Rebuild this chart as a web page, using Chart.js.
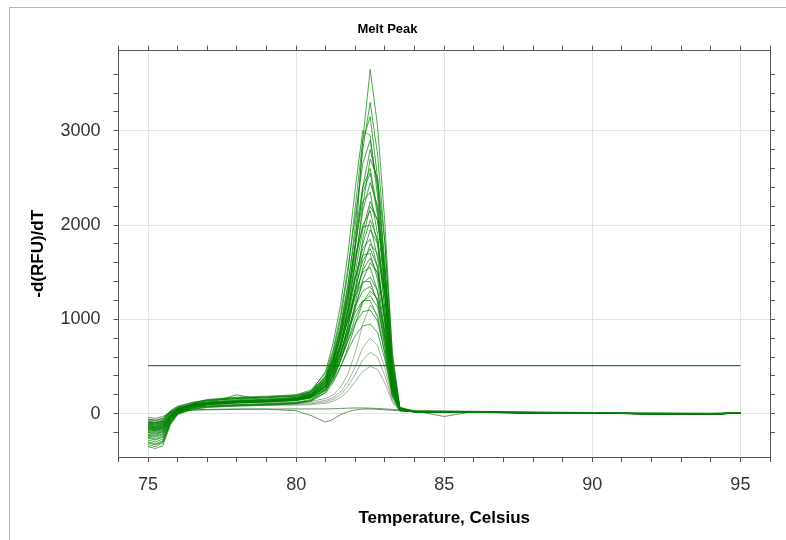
<!DOCTYPE html>
<html>
<head>
<meta charset="utf-8">
<script src="https://cdn.jsdelivr.net/npm/chart.js@4.4.1/dist/chart.umd.min.js"></script>
<style>
  html, body { margin: 0; padding: 0; background: #fff; }
  #wrap { position: relative; width: 786px; height: 540px; }
  #frame { position: absolute; left: 9px; top: 7px; right: 0; bottom: 0; border-left: 1px solid #b8b8b8; border-top: 1px solid #b8b8b8; }
  canvas { position: absolute; left: 0; top: 0; }
</style>
</head>
<body>
<div id="wrap">
  <div id="frame"></div>
  <canvas id="melt" width="786" height="540"></canvas>
</div>
<script>
// temperatures (Celsius) where the curves were read
const temps = [75, 75.25, 75.5, 75.75, 76, 76.5, 77, 78, 79, 80, 80.5, 81, 81.25, 81.5, 81.75, 82, 82.25, 82.5, 82.75, 83, 83.25, 83.5, 84, 85, 86, 87, 88, 89, 90, 91, 92, 93, 94, 95];

// -d(RFU)/dT for each well
const well01 = [-120, -140, -110, -20, 40, 85, 105, 120, 130, 150, 190, 340, 540, 850, 1250, 1800, 2900, 3650, 3050, 2000, 600, 60, 25, 20, 18, 15, 12, 8, 5, 3, 0, -3, -5, 8];
const well02 = [-160, -170, -150, -40, 30, 90, 115, 135, 145, 165, 210, 360, 580, 900, 1350, 2000, 2800, 3300, 2750, 1800, 520, 55, 22, 18, 16, 14, 10, 6, 4, 2, -2, -4, -6, 6];
const well03 = [-90, -100, -80, 10, 60, 100, 120, 140, 150, 170, 220, 400, 650, 1000, 1500, 2200, 2900, 3150, 2500, 1500, 400, 50, 20, 18, 15, 12, 10, 7, 4, 1, -1, -3, -4, 10];
const well04 = [-200, -220, -190, -60, 20, 80, 110, 130, 140, 160, 230, 450, 750, 1150, 1700, 2400, 3000, 2950, 2300, 1300, 300, 40, 20, 18, 15, 12, 9, 6, 3, 1, -2, -5, -6, 5];
const well05 = [-140, -150, -130, -30, 40, 90, 110, 200, 135, 150, 190, 330, 520, 800, 1200, 1750, 2400, 2800, 2450, 1600, 480, 55, 22, 20, 17, 14, 11, 7, 5, 2, 0, -3, -5, 8];
const well06 = [-250, -270, -240, -80, 10, 70, 100, 120, 130, 145, 180, 300, 470, 720, 1100, 1600, 2200, 2700, 2500, 1800, 650, 70, 25, 20, 18, 15, 12, 8, 5, 3, 0, -2, -4, 10];
const well07 = [-110, -120, -100, -10, 50, 95, 115, 130, 140, 155, 200, 360, 560, 850, 1250, 1800, 2350, 2550, 2100, 1250, 350, 45, 20, 18, 15, 12, 10, 6, 4, 2, -1, -3, -5, 7];
const well08 = [-180, -190, -170, -50, 25, 80, 105, 125, 135, 150, 185, 310, 480, 740, 1100, 1600, 2150, 2450, 2200, 1500, 500, 55, 22, 19, 16, 13, 10, 7, 4, 2, -1, -3, -5, 9];
const well09 = [-130, -140, -120, -25, 45, 90, 110, 128, 138, 158, 205, 380, 600, 900, 1300, 1800, 2250, 2350, 1900, 1100, 300, 40, 20, 18, 15, 12, 9, 6, 4, 2, -1, -4, -5, 6];
const well10 = [-220, -230, -200, -70, 15, 75, 100, 118, 128, 142, 175, 290, 450, 700, 1050, 1500, 1950, 2250, 2050, 1400, 480, 50, 22, 19, 16, 13, 10, 7, 4, 2, -1, -3, -5, 8];
const well11 = [-100, -110, -90, 0, 55, 95, 112, 130, 140, 158, 200, 350, 540, 820, 1180, 1620, 2000, 2150, 1800, 1100, 320, 42, 20, 18, 15, 12, 9, 6, 4, 2, -1, -3, -4, 7];
const well12 = [-170, -180, -160, -45, 30, 82, 106, 124, 134, 150, 185, 300, 460, 700, 1020, 1420, 1800, 2050, 1850, 1250, 420, 50, 22, 19, 16, 13, 10, 7, 4, 2, 0, -3, -5, 9];
const well13 = [-260, -280, -250, -90, 5, 65, 95, 115, 125, 140, 170, 270, 410, 630, 930, 1300, 1680, 1950, 1800, 1250, 450, 52, 22, 19, 16, 13, 10, 7, 4, 2, 0, -2, -4, 10];
const well14 = [-120, -130, -110, -20, 48, 92, 112, 128, 138, 155, 195, 330, 500, 760, 1080, 1450, 1750, 1850, 1550, 950, 280, 40, 20, 18, 15, 12, 9, 6, 4, 2, -1, -3, -5, 7];
const well15 = [-150, -160, -140, -35, 38, 86, 108, 126, 136, 152, 188, 310, 470, 700, 990, 1330, 1620, 1750, 1550, 1000, 330, 45, 21, 18, 15, 12, 9, 6, 4, 2, -1, -3, -5, 8];
const well16 = [-190, -200, -180, -55, 22, 78, 104, 122, 132, 148, 180, 290, 430, 650, 930, 1250, 1520, 1650, 1480, 980, 340, 46, 21, 18, 15, 12, 9, 6, 4, 2, 0, -3, -5, 8];
const well17 = [-80, -90, -70, 15, 65, 100, 118, 135, 145, 162, 205, 340, 500, 730, 1000, 1300, 1500, 1550, 1300, 800, 240, 38, 20, 18, 15, 12, 9, 6, 4, 2, -1, -3, -4, 6];
const well18 = [-230, -240, -215, -75, 12, 72, 100, 120, 130, 145, 175, 280, 410, 610, 860, 1150, 1380, 1450, 1300, 850, 280, 42, 20, 18, 15, 12, 9, 6, 4, 2, 0, -3, -5, 9];
const well19 = [-140, -150, -130, -30, 40, 88, 108, 125, 135, 150, 185, 300, 440, 640, 880, 1140, 1300, 1350, 1200, 780, 250, 40, 20, 18, 15, 12, 9, 6, 4, 2, -1, -3, -5, 7];
const well20 = [-300, -320, -290, -100, 0, 60, 92, 112, 122, 138, 165, 260, 380, 560, 780, 1020, 1190, 1250, 1130, 750, 260, 42, 20, 18, 15, 12, 9, 6, 4, 2, 0, -2, -4, 10];
const well21 = [-110, -120, -100, -15, 50, 92, 110, 126, 136, 150, 180, 280, 400, 570, 770, 960, 1080, 1100, 980, 640, 210, 36, 19, 17, 14, 11, 8, 5, 3, 1, -1, -3, -5, 6];
const well22 = [-160, -170, -150, -40, 32, 84, 104, 120, 130, 142, 168, 250, 350, 500, 670, 830, 930, 950, 860, 570, 190, 34, 19, 17, 14, 11, 8, 5, 3, 1, -1, -3, -5, 7];
const well29 = [-330, -350, -310, -110, 20, 110, 150, 175, 185, 200, 250, 430, 680, 1050, 1550, 2100, 2650, 2900, 2400, 1450, 380, 50, 22, 19, 16, 13, 10, 7, 4, 2, -1, -3, -5, 8];
const well30 = [-60, -70, -50, 30, 80, 120, 145, 165, 175, 190, 235, 400, 620, 940, 1380, 1900, 2400, 2600, 2150, 1300, 360, 48, 22, 19, 16, 13, 10, 7, 4, 2, -1, -3, -5, 7];
const well31 = [-280, -300, -270, -95, 0, 50, 70, 85, 95, 110, 140, 250, 400, 620, 920, 1330, 1850, 2200, 2050, 1500, 560, 60, 24, 20, 17, 14, 11, 7, 5, 2, 0, -2, -4, 9];
const well32 = [-200, -210, -190, -60, 35, 100, 135, 160, 170, 185, 225, 380, 580, 880, 1250, 1680, 1980, 2000, 1650, 950, 270, 40, 20, 18, 15, 12, 9, 6, 4, 2, -1, -3, -5, 6];
const well33 = [-350, -370, -340, -120, -10, 45, 65, 80, 90, 105, 130, 230, 360, 560, 830, 1180, 1550, 1800, 1700, 1250, 470, 55, 23, 20, 17, 14, 11, 7, 5, 2, 0, -2, -4, 9];
const well34 = [-150, -160, -140, -35, 42, 105, 140, 165, 175, 192, 235, 390, 570, 820, 1120, 1450, 1680, 1700, 1420, 850, 250, 38, 20, 18, 15, 12, 9, 6, 4, 2, -1, -3, -5, 7];
const well35 = [-240, -250, -225, -80, 15, 60, 80, 95, 105, 120, 150, 250, 380, 570, 820, 1120, 1420, 1600, 1500, 1050, 380, 48, 22, 19, 16, 13, 10, 7, 4, 2, 0, -3, -5, 8];
const well36 = [-90, -100, -80, 20, 70, 115, 140, 160, 170, 185, 225, 360, 520, 740, 1000, 1250, 1400, 1400, 1180, 700, 200, 35, 19, 17, 14, 11, 8, 5, 3, 1, -1, -3, -5, 6];
const well37 = [-310, -330, -300, -105, 0, 55, 75, 90, 100, 112, 138, 220, 330, 490, 700, 950, 1180, 1300, 1220, 850, 300, 45, 21, 18, 15, 12, 9, 6, 4, 2, 0, -2, -4, 9];
const well38 = [-170, -180, -160, -45, 35, 95, 125, 148, 158, 172, 205, 320, 460, 650, 870, 1080, 1200, 1200, 1020, 620, 190, 34, 19, 17, 14, 11, 8, 5, 3, 1, -1, -3, -5, 6];
// late, smaller peaks
const well23 = [-70, -80, -60, 20, 70, 100, 110, 115, 118, 122, 130, 160, 200, 280, 420, 650, 950, 1150, 1050, 700, 220, 40, 20, 18, 15, 12, 9, 6, 4, 2, -1, -3, -4, 6];
const well24 = [-100, -110, -90, 0, 55, 85, 95, 100, 104, 108, 115, 140, 170, 230, 340, 500, 700, 800, 720, 480, 160, 32, 18, 16, 13, 10, 8, 5, 3, 1, -1, -3, -4, 6];
const well25 = [-130, -140, -120, -20, 45, 75, 85, 90, 94, 98, 104, 125, 150, 200, 290, 420, 570, 650, 600, 400, 140, 30, 18, 16, 13, 10, 8, 5, 3, 1, -1, -3, -4, 6];
const well26 = [-90, -100, -80, 10, 55, 70, 78, 82, 86, 90, 95, 110, 130, 170, 240, 340, 450, 500, 470, 320, 120, 28, 17, 15, 12, 10, 7, 5, 3, 1, -1, -3, -4, 6];
// no peak
const well27 = [-60, -70, -50, 10, 25, 35, 40, 45, 48, 50, 50, 50, 52, 55, 58, 60, 60, 58, 55, 50, 45, 40, 35, 30, 25, 20, 18, 15, 12, 10, 8, 6, 5, 10];
const well28 = [-40, -50, -30, 15, 30, 40, 45, 50, 48, 30, -20, -90, -60, -10, 20, 40, 48, 50, 45, 40, 35, 30, 28, -30, 22, 18, 15, 12, 10, 8, 5, 3, 2, 8];

const bigWells = [well01, well02, well03, well04, well05, well06, well07, well08, well09, well10, well11, well12, well13, well14, well15, well16, well17, well18, well19, well20, well21, well22, well29, well30, well31, well32, well33, well34, well35, well36, well37, well38];
const lateWells = [well23, well24, well25, well26];
const flatWells = [well27, well28];

// threshold line
const threshold = 510;
const thresholdSpan = [75, 95];

function toPoints(values) {
  return temps.map((t, i) => ({ x: t, y: values[i] }));
}

const datasets = [];
bigWells.forEach((w) => {
  datasets.push({ data: toPoints(w), borderColor: "rgba(0, 128, 0, 0.7)", borderWidth: 1 });
});
lateWells.forEach((w) => {
  datasets.push({ data: toPoints(w), borderColor: "rgba(70, 110, 70, 0.5)", borderWidth: 1 });
});
flatWells.forEach((w) => {
  datasets.push({ data: toPoints(w), borderColor: "rgba(40, 110, 40, 0.7)", borderWidth: 1 });
});
datasets.push({
  data: thresholdSpan.map((t) => ({ x: t, y: threshold })),
  borderColor: "rgba(20, 110, 20, 0.9)",
  borderWidth: 1.2,
});

const tickFont = { family: "Liberation Sans, Arial, sans-serif", size: 18 };
const titleFont = { family: "Liberation Sans, Arial, sans-serif", size: 17, weight: "bold" };

new Chart(document.getElementById("melt"), {
  type: "line",
  data: { datasets: datasets },
  options: {
    responsive: false,
    animation: false,
    events: [],
    elements: {
      point: { radius: 0 },
      line: { tension: 0 },
    },
    layout: { padding: { left: 0, right: 11, top: 0, bottom: 0 } },
    plugins: {
      legend: { display: false },
      tooltip: { enabled: false },
      title: {
        display: true,
        text: "Melt Peak",
        color: "#000",
        font: { family: "Liberation Sans, Arial, sans-serif", size: 13, weight: "bold" },
        padding: { top: 22, bottom: 8 },
      },
    },
    scales: {
      x: {
        type: "linear",
        min: 74,
        max: 96,
        ticks: {
          stepSize: 1,
          autoSkip: false,
          maxRotation: 0,
          padding: 12,
          color: "#333",
          font: tickFont,
          callback: (v) => (v % 5 === 0 ? v : ""),
        },
        grid: {
          color: (ctx) => (ctx.tick && ctx.tick.value % 5 === 0 ? "#e4e4e4" : "rgba(0,0,0,0)"),
          tickColor: "#555",
          tickLength: 5,
        },
        border: { color: "#555" },
        title: {
          display: true,
          text: "Temperature, Celsius",
          color: "#000",
          font: titleFont,
          padding: { top: 1, bottom: 11 },
        },
      },
      xTop: {
        type: "linear",
        position: "top",
        min: 74,
        max: 96,
        ticks: { stepSize: 1, display: false },
        grid: { drawOnChartArea: false, tickColor: "#555", tickLength: 5 },
        border: { color: "#555" },
      },
      y: {
        min: -460,
        max: 3850,
        afterBuildTicks: (scale) => {
          scale.ticks = scale.ticks.filter((t) => t.value % 200 === 0);
        },
        ticks: {
          stepSize: 200,
          autoSkip: false,
          padding: 13,
          color: "#333",
          font: tickFont,
          callback: (v) => (v % 1000 === 0 ? v : ""),
        },
        grid: {
          color: (ctx) => (ctx.tick && ctx.tick.value % 1000 === 0 ? "#e4e4e4" : "rgba(0,0,0,0)"),
          tickColor: "#555",
          tickLength: 5,
        },
        border: { color: "#555" },
        title: {
          display: true,
          text: "-d(RFU)/dT",
          color: "#000",
          font: titleFont,
          padding: { top: 28, bottom: -1 },
        },
      },
      yRight: {
        position: "right",
        min: -460,
        max: 3850,
        afterBuildTicks: (scale) => {
          scale.ticks = scale.ticks.filter((t) => t.value % 200 === 0);
        },
        ticks: { stepSize: 200, display: false },
        grid: { drawOnChartArea: false, tickColor: "#555", tickLength: 5 },
        border: { color: "#555" },
      },
    },
  },
});
</script>
</body>
</html>
